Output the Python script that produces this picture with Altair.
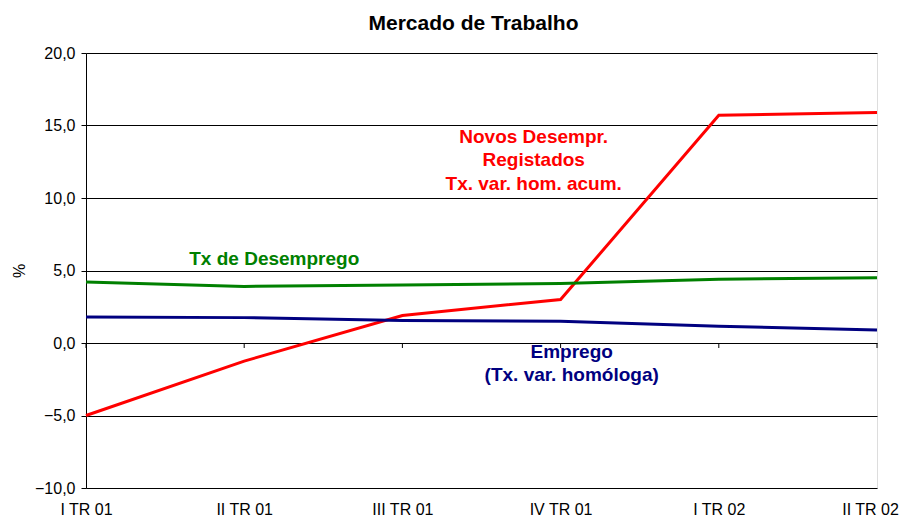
import altair as alt
import pandas as pd

categories = ["I TR 01", "II TR 01", "III TR 01", "IV TR 01", "I TR 02", "II TR 02"]
novos_desempr = [-5.0, -1.25, 1.9, 3.0, 15.7, 15.9]
tx_desemprego = [4.2, 3.9, 4.0, 4.1, 4.4, 4.5]
emprego = [1.8, 1.75, 1.55, 1.5, 1.15, 0.9]

series_names = ["Novos Desempr.", "Tx de Desemprego", "Emprego"]
series_colors = ["#FF0000", "#008000", "#000080"]

# annotation texts with positions in data units (x = category index, y = %)
ann_text = ["Novos Desempr.", "Registados", "Tx. var. hom. acum.",
            "Tx de Desemprego", "Emprego", "(Tx. var. homóloga)"]
ann_x = [2.83, 2.83, 2.83, 1.19, 3.07, 3.07]
ann_y = [14.2, 12.6, 11.0, 5.8, -0.65, -2.2]
ann_color = ["#FF0000", "#FF0000", "#FF0000", "#008000", "#000080", "#000080"]

rows = []
for name, vals in zip(series_names, [novos_desempr, tx_desemprego, emprego]):
    for i, v in enumerate(vals):
        rows.append({"idx": i, "cat": categories[i], "serie": name, "valor": v})
df = pd.DataFrame(rows)
df_ticks = pd.DataFrame({"idx": list(range(len(categories)))})
df_ann = pd.DataFrame({"t": ann_text, "x": ann_x, "y": ann_y, "c": ann_color})

FONT = "Liberation Sans"
label_expr = "[" + ",".join("'" + c + "'" for c in categories) + "][datum.value]"
last = len(categories) - 1

xscale = alt.Scale(domain=[0, last], nice=False, zero=False)
yscale = alt.Scale(domain=[-10, 20], nice=False)

x_axis = alt.Axis(values=list(range(len(categories))), labelExpr=label_expr,
                  title=None, grid=False, ticks=False, tickSize=0, labelPadding=13,
                  labelFontSize=16, labelFont=FONT, labelColor="#000",
                  labelOffset={"condition": {"test": f"datum.value == {last}", "value": -7}, "value": 0},
                  labelFlush=False, labelOverlap=False, domain=False)
y_axis = alt.Axis(values=[-10, -5, 0, 5, 10, 15, 20],
                  labelExpr="replace(format(datum.value, '.1f'), '.', ',')",
                  title="%", titleFontSize=16, titleFont=FONT, titleFontWeight="normal",
                  titleColor="#000", titlePadding=7,
                  labelFontSize=16, labelFont=FONT, labelColor="#000", labelPadding=6,
                  labelFlush=False,
                  tickSize=5, tickColor="#000", domainColor="#000",
                  grid=True, gridColor="#000", gridOpacity=1, gridWidth=1)

lines = alt.Chart(df).mark_line(strokeWidth=3).encode(
    x=alt.X("idx:Q", scale=xscale, axis=x_axis),
    y=alt.Y("valor:Q", scale=yscale, axis=y_axis),
    color=alt.Color("serie:N", scale=alt.Scale(domain=series_names, range=series_colors), legend=None),
    order="idx:Q",
)

zero_ticks = alt.Chart(df_ticks).mark_rule(color="#000", strokeWidth=1, y2Offset=5).encode(
    x=alt.X("idx:Q", scale=xscale),
    y=alt.datum(0),
    y2=alt.datum(0),
)

ann = alt.Chart(df_ann).mark_text(font=FONT, fontSize=19, fontWeight="bold",
                                  align="center", baseline="middle").encode(
    x=alt.X("x:Q", scale=xscale),
    y=alt.Y("y:Q", scale=yscale),
    text="t:N",
    color=alt.Color("c:N", scale=None, legend=None),
)

chart = alt.layer(lines, zero_ticks, ann).properties(
    width=791, height=435,
    title=alt.TitleParams("Mercado de Trabalho", fontSize=21, font=FONT, fontWeight="bold",
                          color="#000", anchor="middle", offset=11, dx=-8),
    padding={"left": 3, "top": 5, "right": 0, "bottom": 0},
).configure_view(stroke="#000", strokeWidth=1).configure(background="white")

chart.save("out.html", embed_options={"renderer": "svg", "actions": False})
